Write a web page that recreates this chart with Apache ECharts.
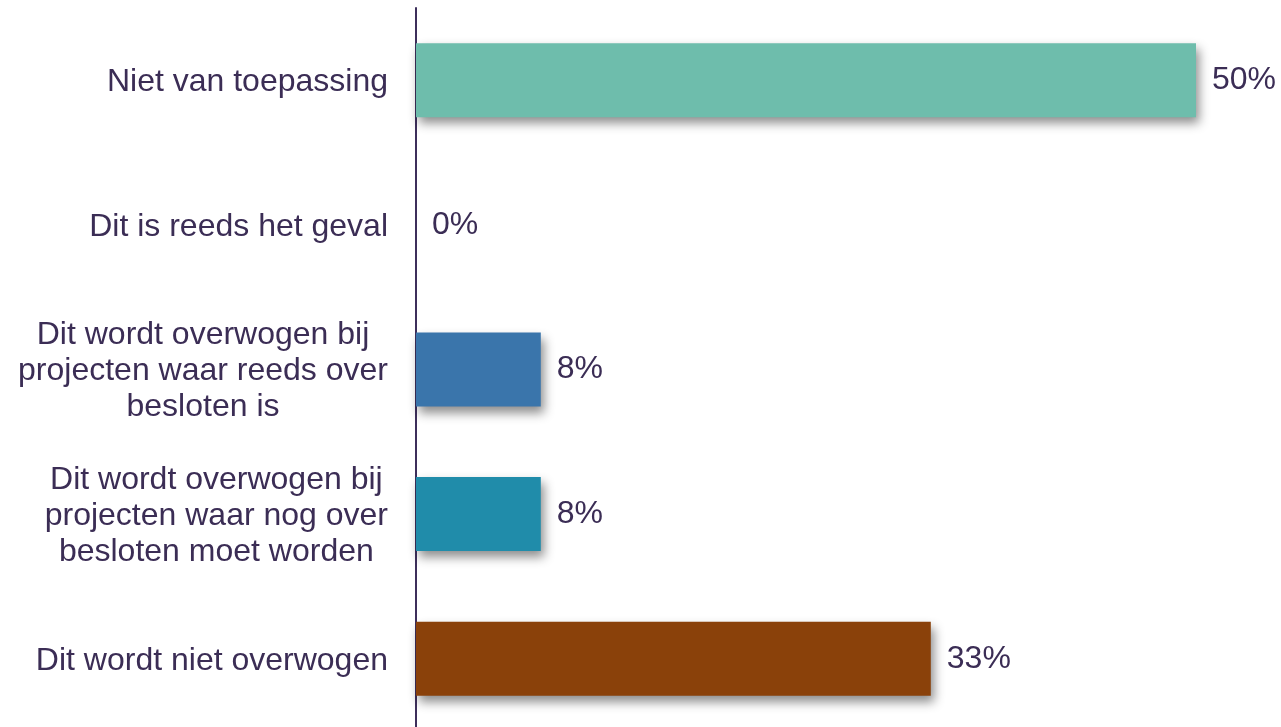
<!DOCTYPE html>
<html>
<head>
<meta charset="utf-8">
<script src="https://cdn.jsdelivr.net/npm/echarts@6/dist/echarts.min.js"></script>
<style>
  html, body { margin: 0; padding: 0; background: #ffffff; overflow: hidden; }
  /* the canvas runs a few pixels past the window so the axis line reaches the bottom edge */
  #chart { width: 1281px; height: 731px; }
</style>
</head>
<body>
<div id="chart"></div>
<script>
// Answer categories, top to bottom
const categories = [
  'Niet van toepassing',
  'Dit is reeds het geval',
  'Dit wordt overwogen bij\nprojecten waar reeds over\nbesloten is',
  'Dit wordt overwogen bij\nprojecten waar nog over\nbesloten moet worden',
  'Dit wordt niet overwogen'
];
// Share of respondents (%)
const values = [50, 0, 8, 8, 33];
// Bar fill per category
const barColors = ['#6ebdac', '#6ebdac', '#3a75ab', '#208caa', '#8a410a'];

const textColor = '#3b2d55';
const fontFamily = '"Liberation Sans", Arial, sans-serif';

const chart = echarts.init(document.getElementById('chart'), null, { renderer: 'canvas' });

chart.setOption({
  animation: false,
  grid: { left: 416, right: 85, top: 8, bottom: 0, containLabel: false },
  xAxis: {
    type: 'value',
    min: 0,
    max: 50,
    show: false
  },
  yAxis: {
    type: 'category',
    inverse: true,
    data: categories,
    axisLine: { show: true, lineStyle: { color: '#3d2f5b', width: 2 } },
    axisTick: { show: false },
    splitLine: { show: false },
    axisLabel: {
      margin: 28,
      color: textColor,
      fontFamily: fontFamily,
      fontSize: 32,
      lineHeight: 36,
      padding: [4, 0, 0, 0],
      formatter: function (v) {
        const lines = v.split('\n');
        if (lines.length === 1) return v;
        return lines.map(l => '{c|' + l + '}').join('\n');
      },
      rich: {
        c: {
          align: 'center',
          color: textColor,
          fontFamily: fontFamily,
          fontSize: 32,
          lineHeight: 36
        }
      }
    }
  },
  series: [{
    type: 'bar',
    barWidth: 74,
    data: values.map((v, i) => ({
      value: v,
      itemStyle: { color: barColors[i] }
    })),
    itemStyle: {
      shadowColor: 'rgba(0,0,0,0.45)',
      shadowBlur: 10,
      shadowOffsetX: 3,
      shadowOffsetY: 6
    },
    label: {
      show: true,
      position: 'right',
      distance: 16,
      color: textColor,
      fontFamily: fontFamily,
      fontSize: 32,
      padding: [4, 0, 0, 0],
      formatter: p => p.value + '%'
    }
  }]
});
</script>
</body>
</html>
